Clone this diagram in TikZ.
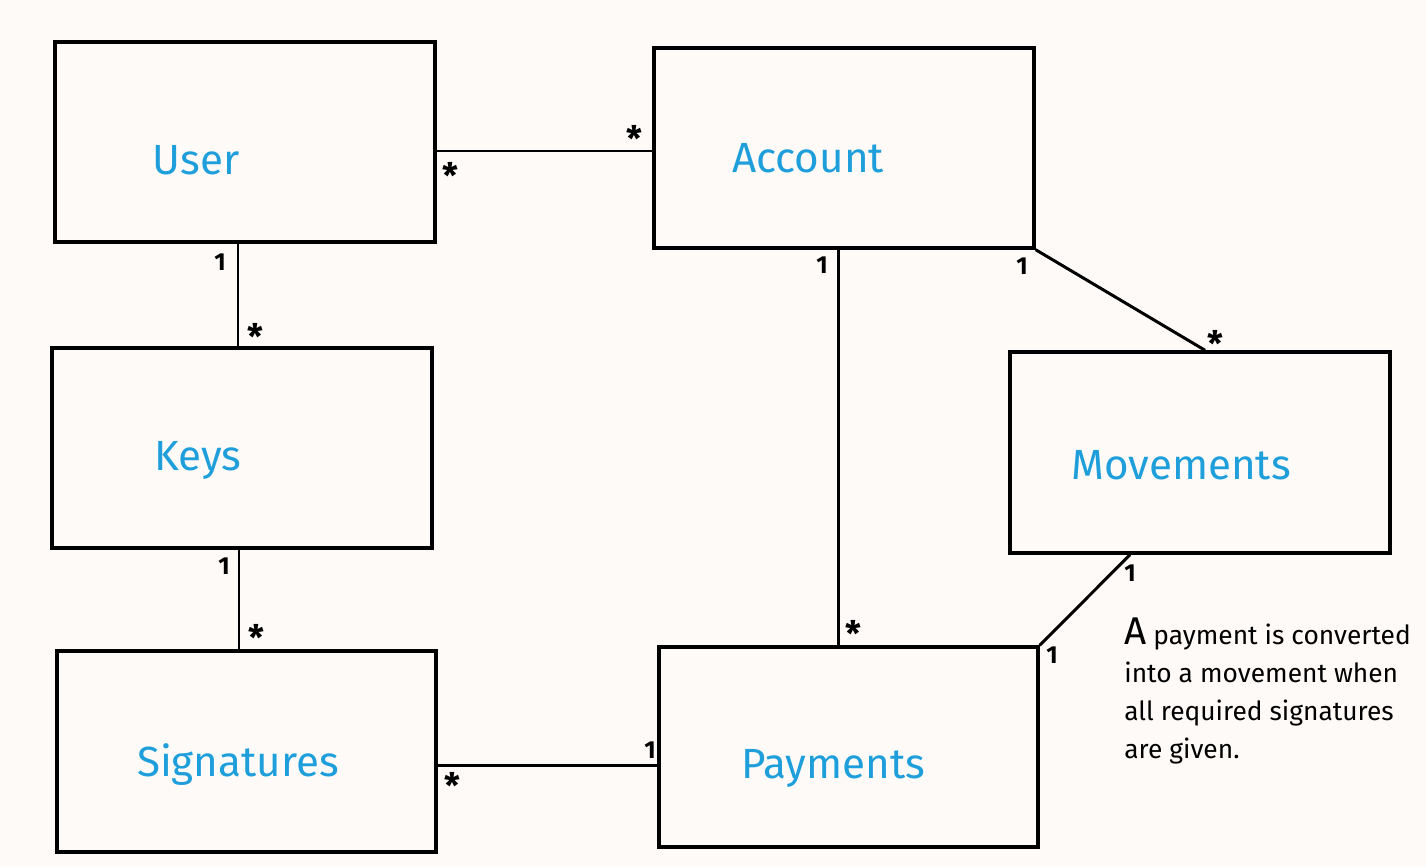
\documentclass[tikz,border=0pt]{standalone}
\usepackage{fontspec}
\setmainfont{Fira Sans}
\usetikzlibrary{positioning}

\definecolor{paper}{HTML}{FDFAF7}
\definecolor{penblue}{HTML}{1E9FDB}

\begin{document}
\begin{tikzpicture}[x=0.02cm, y=-0.02cm,
    entity/.style={draw, line width=2pt, minimum width=7.6cm, minimum height=4cm},
    title/.style={text=penblue, font=\fontsize{24}{28}\selectfont},
    many/.style={font=\bfseries\fontsize{20}{20}\selectfont, inner sep=0pt},
    one/.style={font=\bfseries\fontsize{14}{14}\selectfont, inner sep=0pt},
    link/.style={line width=1.7pt}]

        \fill[paper] (0,0) rectangle (1426,866);
        \useasboundingbox (0,0) rectangle (1426,866);

        % Entity boxes
        \node[entity] (user) at (245,142) {};
        \node[entity] (account) at (844,148) {};
        \node[entity] (keys) at (242,448) {};
        \node[entity, minimum height=4.02cm] (movements) at (1200,452.5) {};
        \node[entity, minimum width=7.58cm, minimum height=4.02cm] (signatures) at (246.5,751.5) {};
        \node[entity, minimum width=7.58cm] (payments) at (848.5,747) {};

        % Entity names
        \node[title] (user_t) at (196,160) {User};
        \node[title] (account_t) at (808,158) {Account};
        \node[title] (keys_t) at (198,460) {Keys};
        \node[title] (movements_t) at (1181,465) {Movements};
        \node[title] (signatures_t) at (238,765) {Signatures};
        \node[title] (payments_t) at (833,768) {Payments};

        % Associations
        \draw[link] ([yshift=-0.06cm]user.east |- account.west) -- ([yshift=-0.06cm]account.west);
        \draw[link] ([xshift=-0.08cm]keys.north) -- ([xshift=-0.08cm]keys.north |- user.south);
        \draw[link] ([xshift=-0.06cm]keys.south) -- ([xshift=-0.06cm]keys.south |- signatures.north);
        \draw[link] ([yshift=-0.27cm]signatures.east) -- ([yshift=-0.27cm]signatures.east -| payments.west);
        \draw[link] ([xshift=-0.12cm]account.south) -- ([xshift=-0.12cm]account.south |- payments.north);
        \draw[link] (account.south east) -- ([xshift=0.1cm]movements.north);
        \draw[link] ([xshift=-1.4cm]movements.south) -- (payments.north east);

        % Multiplicities
        \node[many] (m_ua1) at (450,175) {*};
        \node[many] (m_ua2) at (634,138) {*};
        \node[one] (m_uk1) at (220,262) {1};
        \node[many] (m_uk2) at (255,336) {*};
        \node[one] (m_ks1) at (224,566) {1};
        \node[many] (m_ks2) at (256,637) {*};
        \node[many] (m_sp1) at (452,785) {*};
        \node[one] (m_sp2) at (650,750) {1};
        \node[one] (m_ap1) at (822,265) {1};
        \node[many] (m_ap2) at (853,633) {*};
        \node[one] (m_am1) at (1022,266) {1};
        \node[many] (m_am2) at (1215,343) {*};
        \node[one] (m_mp1) at (1130,573) {1};
        \node[one] (m_mp2) at (1052,655) {1};

        % Note
        \node[align=left, anchor=north west, inner sep=0pt, font=\fontsize{15}{21.5}\selectfont] (note) at (1124,618)
            {\fontsize{22}{21.5}\selectfont A\fontsize{15}{21.5}\selectfont{} payment is converted\\
             into a movement when\\
             all required signatures\\
             are given.};

    \end{tikzpicture}
\end{document}
